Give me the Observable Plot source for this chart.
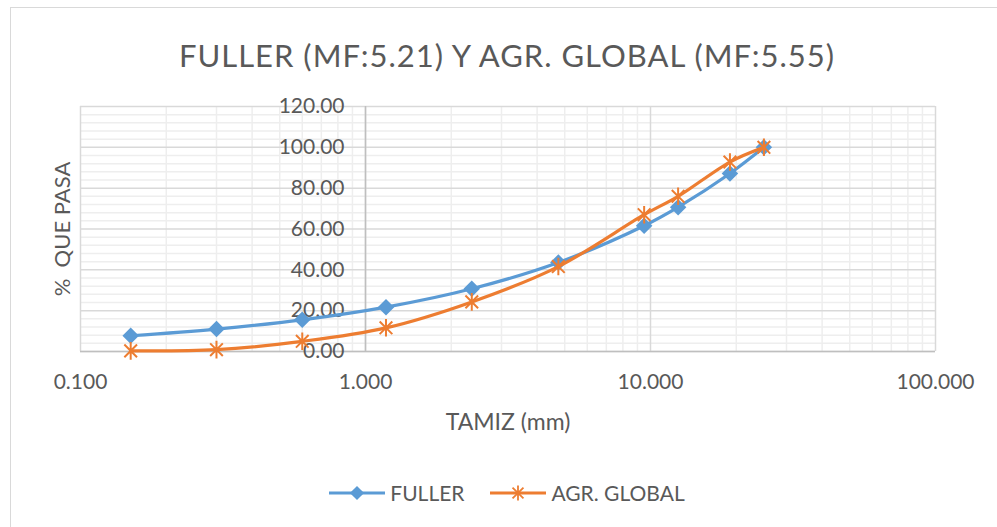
<!DOCTYPE html>
<html>
<head>
<meta charset="utf-8">
<script src="https://cdn.jsdelivr.net/npm/d3@7"></script>
<script src="https://cdn.jsdelivr.net/npm/@observablehq/plot@0.6"></script>
<style>
  html, body { margin: 0; padding: 0; background: #fff; }
  body { width: 997px; height: 527px; overflow: hidden; position: relative; font-family: Lato, "Open Sans", sans-serif; color: #595959; }
  #frame { position: absolute; left: 10px; top: 7px; width: 990px; height: 540px; border: 1px solid #d9d9d9; box-sizing: border-box; }
  #title { position: absolute; left: 0; top: 0; width: 1014px; height: 85px; line-height: 110px; text-align: center; font-size: 31px; letter-spacing: 1px; color: #595959; }
  #chart { position: absolute; left: 0; top: 85px; }
  #legend { position: absolute; left: 0; top: 480px; width: 1014px; display: flex; justify-content: center; align-items: center; font-size: 21px; color: #595959; }
  #legend .item { display: flex; align-items: center; margin: 0 13px; }
  #legend svg { margin-right: 5px; }
</style>
</head>
<body>
<div id="frame"></div>
<div id="title">FULLER (MF:5.21) Y AGR. GLOBAL (MF:5.55)</div>
<div id="chart"></div>
<div id="legend"></div>
<script>
// Sieve sizes (mm)
const sieves = [0.15, 0.3, 0.6, 1.18, 2.36, 4.75, 9.5, 12.5, 19, 25];
// % passing
const fuller = [7.7, 11.0, 15.5, 21.7, 30.7, 43.6, 61.6, 70.7, 87.2, 100];
const global = [0.3, 0.9, 5.0, 11.6, 24.3, 41.6, 67.0, 76.0, 92.8, 100];
const seriesNames = ["FULLER", "AGR. GLOBAL"];
const colors = ["#5b9bd5", "#ed7d31"];
const yTicks = [0, 20, 40, 60, 80, 100, 120];
const yMinor = [4, 8, 12, 16, 24, 28, 32, 36, 44, 48, 52, 56, 64, 68, 72, 76, 84, 88, 92, 96, 104, 108, 112, 116];
const xTicks = [0.1, 1, 10, 100];
const xTickLabels = ["0.100", "1.000", "10.000", "100.000"];
const xMinor = [0.2,0.3,0.4,0.5,0.6,0.7,0.8,0.9, 2,3,4,5,6,7,8,9, 20,30,40,50,60,70,80,90];
const xTitle = "TAMIZ (mm)";
const yTitle = "%  QUE PASA";

const dataF = sieves.map((s, i) => ({x: s, y: fuller[i]}));
const dataG = sieves.map((s, i) => ({x: s, y: global[i]}));

// Excel-like star marker: vertical bar + X
const star = {
  draw(ctx, size) {
    const r = Math.sqrt(size) * 0.62;
    const d = r * 0.72;
    ctx.moveTo(0, -r); ctx.lineTo(0, r);
    ctx.moveTo(-d, -d); ctx.lineTo(d, d);
    ctx.moveTo(-d, d); ctx.lineTo(d, -d);
  }
};
// Square diamond (rotated square)
const diamond = {
  draw(ctx, size) {
    const r = Math.sqrt(size) * 0.62;
    ctx.moveTo(0, -r); ctx.lineTo(r, 0); ctx.lineTo(0, r); ctx.lineTo(-r, 0); ctx.closePath();
  }
};

const font = "Lato, 'Open Sans', sans-serif";
const plot = Plot.plot({
  width: 997,
  height: 360,
  marginLeft: 80,
  marginRight: 62,
  marginTop: 21,
  marginBottom: 94,
  style: {fontFamily: font, color: "#595959", background: "transparent"},
  x: {type: "log", domain: [0.1, 100], axis: null},
  y: {domain: [0, 120], axis: null},
  marks: [
    Plot.ruleY(yMinor, {stroke: "#eeeeee", strokeWidth: 1.5}),
    Plot.ruleX(xMinor, {stroke: "#eeeeee", strokeWidth: 1.5}),
    Plot.ruleY(yTicks, {stroke: "#d9d9d9", strokeWidth: 1.5}),
    Plot.ruleX(xTicks, {stroke: "#d9d9d9", strokeWidth: 1.5}),
    Plot.ruleX([1], {stroke: "#bfbfbf", strokeWidth: 1.5}),
    Plot.ruleY([0], {stroke: "#bfbfbf", strokeWidth: 1.5}),
    Plot.text(yTicks, {x: () => 1, y: d => d, text: d => d.toFixed(2), textAnchor: "end", dx: -21, fontSize: 21, fill: "#595959"}),
    Plot.text(xTicks, {x: d => d, frameAnchor: "bottom", text: (d, i) => xTickLabels[i], dy: 37, fontSize: 21, fill: "#595959"}),
    Plot.text([xTitle], {frameAnchor: "bottom", text: d => d, dy: 78, fontSize: 23, fill: "#595959"}),
    Plot.text([yTitle], {frameAnchor: "left", textAnchor: "middle", text: d => d, rotate: -90, dx: -18, fontSize: 22, fill: "#595959"}),
    Plot.line(dataF, {x: "x", y: "y", stroke: colors[0], strokeWidth: 3.2, curve: "catmull-rom"}),
    Plot.dot(dataF, {x: "x", y: "y", symbol: diamond, fill: colors[0], r: 7.5}),
    Plot.line(dataG, {x: "x", y: "y", stroke: colors[1], strokeWidth: 3.2, curve: "catmull-rom"}),
    Plot.dot(dataG, {x: "x", y: "y", symbol: star, stroke: colors[1], strokeWidth: 2, r: 8})
  ]
});
document.getElementById("chart").appendChild(plot);

// Legend
const legend = document.getElementById("legend");
seriesNames.forEach((name, i) => {
  const item = document.createElement("div");
  item.className = "item";
  const svg = d3.create("svg").attr("width", 56).attr("height", 18);
  svg.append("line").attr("x1", 0).attr("x2", 56).attr("y1", 9).attr("y2", 9).attr("stroke", colors[i]).attr("stroke-width", 3.2);
  if (i === 0) {
    svg.append("path").attr("transform", "translate(28,9)").attr("d", d3.symbol(diamond, 130)()).attr("fill", colors[i]);
  } else {
    svg.append("path").attr("transform", "translate(28,9)").attr("d", d3.symbol(star, 150)()).attr("stroke", colors[i]).attr("stroke-width", 1.8).attr("fill", "none");
  }
  item.appendChild(svg.node());
  const span = document.createElement("span");
  span.textContent = name;
  item.appendChild(span);
  legend.appendChild(item);
});
</script>
</body>
</html>
